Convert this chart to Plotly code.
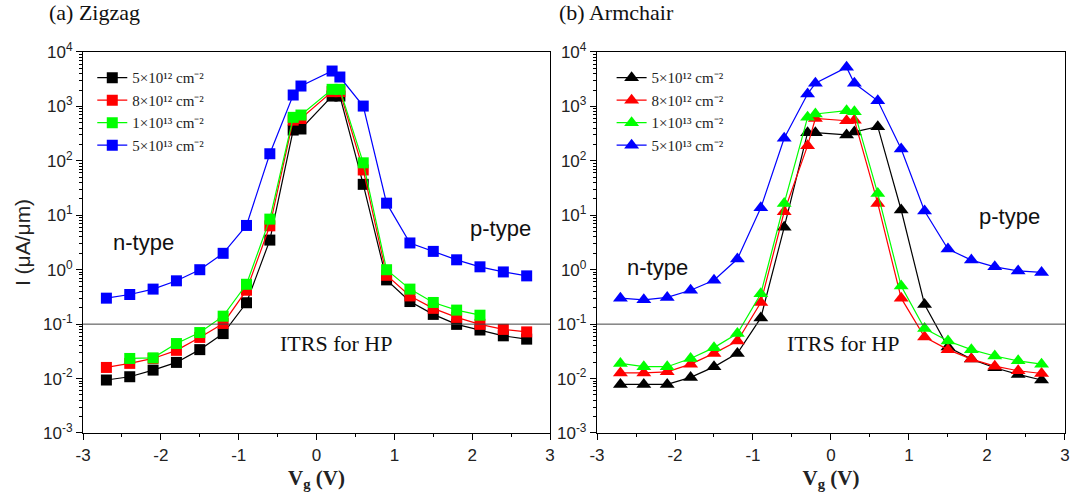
import plotly.graph_objects as go

vg = [-2.7, -2.4, -2.1, -1.8, -1.5, -1.2, -0.9, -0.6, -0.3, -0.2,
      0.2, 0.3, 0.6, 0.9, 1.2, 1.5, 1.8, 2.1, 2.4, 2.7]

labels = ["5×10¹² cm⁻²", "8×10¹² cm⁻²", "1×10¹³ cm⁻²", "5×10¹³ cm⁻²"]
colors = ["#000000", "#ff0000", "#00ff00", "#0000ff"]

# (a) Zigzag
zz_5e12 = [0.0094, 0.0108, 0.0143, 0.0198, 0.034, 0.067, 0.247, 3.5, 368, 385,
           1550, 1550, 37, 0.65, 0.26, 0.151, 0.099, 0.078, 0.061, 0.053]
zz_8e12 = [0.016, 0.019, 0.0234, 0.033, 0.057, 0.103, 0.42, 6.4, 560, 600,
           1870, 1870, 68, 0.79, 0.33, 0.195, 0.133, 0.099, 0.080, 0.072]
zz_1e13 = [None, 0.0234, 0.024, 0.044, 0.070, 0.14, 0.54, 8.5, 630, 695,
           2060, 2060, 92, 1.0, 0.44, 0.25, 0.181, 0.146, None, None]
zz_5e13 = [0.30, 0.35, 0.44, 0.625, 1.0, 2.0, 6.5, 135, 1620, 2370,
           4470, 3470, 1015, 16.7, 3.1, 2.17, 1.52, 1.13, 0.91, 0.77]

# (b) Armchair
ac_5e12 = [0.0078, 0.0078, 0.0078, 0.0105, 0.0164, 0.029, 0.13, 6.0, 330, 330,
           300, 340, 424, 12.5, 0.23, 0.038, 0.0228, 0.0158, 0.0119, 0.0094]
ac_8e12 = [0.0127, 0.0127, 0.0133, 0.0184, 0.029, 0.049, 0.25, 11.6, 190, 600,
           545, 560, 16.5, 0.30, 0.058, 0.034, 0.0228, 0.0169, 0.0139, 0.0124]
ac_1e13 = [0.019, 0.0165, 0.0165, 0.0234, 0.037, 0.067, 0.36, 16.5, 630, 725,
           835, 800, 25, 0.5, 0.083, 0.049, 0.034, 0.026, 0.0212, 0.0184]
ac_5e13 = [0.30, 0.28, 0.31, 0.42, 0.64, 1.57, 13.7, 260, 1690, 2660,
           5220, 2660, 1270, 165, 12, 2.4, 1.5, 1.13, 0.95, 0.89]

itrs = 0.1
xtick_vals = [-3, -2, -1, 0, 1, 2, 3]
xtick_text = ["-3", "-2", "-1", "0", "1", "2", "3"]
xminor_vals = [-2.5, -1.5, -0.5, 0.5, 1.5, 2.5]
ytick_vals = [1e-3, 1e-2, 1e-1, 1e0, 1e1, 1e2, 1e3, 1e4]
ytick_text = ["10<sup>-3</sup>", "10<sup>-2</sup>", "10<sup>-1</sup>", "10<sup>0</sup>",
              "10<sup>1</sup>", "10<sup>2</sup>", "10<sup>3</sup>", "10<sup>4</sup>"]
yminor_vals = [m * 10 ** e for e in range(-3, 4) for m in range(2, 10)]

fig = go.Figure()

zz = [zz_5e12, zz_8e12, zz_1e13, zz_5e13]
ac = [ac_5e12, ac_8e12, ac_1e13, ac_5e13]

for i in range(4):
    fig.add_trace(go.Scatter(
        x=vg, y=zz[i], mode="lines+markers", name=labels[i],
        line=dict(color=colors[i], width=1.2),
        marker=dict(symbol="square", size=11, color=colors[i]),
        xaxis="x", yaxis="y", legend="legend", connectgaps=False))
for i in range(4):
    fig.add_trace(go.Scatter(
        x=vg, y=ac[i], mode="lines+markers", name=labels[i],
        line=dict(color=colors[i], width=1.2),
        marker=dict(symbol="triangle-up", size=13, color=colors[i]),
        xaxis="x2", yaxis="y2", legend="legend2"))

# ITRS reference lines
for xa, ya in [("x", "y"), ("x2", "y2")]:
    fig.add_trace(go.Scatter(x=[-3, 3], y=[itrs, itrs], mode="lines",
                             line=dict(color="#444444", width=1), showlegend=False,
                             hoverinfo="skip", xaxis=xa, yaxis=ya))

SANS = "Liberation Sans, Arial, sans-serif"
SERIF = "Liberation Serif, Times New Roman, serif"

axis_common = dict(showline=True, linecolor="black", linewidth=1.3, mirror=True,
                   ticks="outside", tickcolor="black", showgrid=False, zeroline=False,
                   automargin=False,
                   tickfont=dict(family=SANS, size=17, color="#222"))

xcommon = dict(range=[-3, 3], tickmode="array", tickvals=xtick_vals, ticktext=xtick_text,
               ticklen=6,
               minor=dict(ticks="outside", tickmode="array", tickvals=xminor_vals,
                          ticklen=3, tickcolor="black"),
               title=dict(text="<b>V<sub>g</sub> (V)</b>",
                          font=dict(family=SERIF, size=21, color="#222"),
                          standoff=6),
               **axis_common)
ycommon = dict(type="log", range=[-3, 4], tickmode="array", tickvals=ytick_vals,
               ticktext=ytick_text, ticklen=6,
               minor=dict(ticks="outside", tickmode="array", tickvals=yminor_vals,
                          ticklen=3, tickcolor="black"),
               **axis_common)

fig.update_layout(
    width=1073, height=499, paper_bgcolor="white", plot_bgcolor="white",
    margin=dict(l=0, r=0, t=0, b=0, autoexpand=False),
    xaxis=dict(domain=[0.0774, 0.5126], anchor="y", **xcommon),
    xaxis2=dict(domain=[0.5564, 0.9925], anchor="y2", **xcommon),
    yaxis=dict(domain=[0.1323, 0.8958], anchor="x",
               title=dict(text="I (μA/μm)", font=dict(family=SANS, size=21, color="#222"),
                          standoff=6),
               **ycommon),
    yaxis2=dict(domain=[0.1323, 0.8958], anchor="x2", **ycommon),
    legend=dict(x=0.086, y=0.877, xanchor="left", yanchor="top", bgcolor="rgba(0,0,0,0)",
                font=dict(family=SERIF, size=15, color="#222"),
                tracegroupgap=0, itemwidth=30),
    legend2=dict(x=0.570, y=0.877, xanchor="left", yanchor="top", bgcolor="rgba(0,0,0,0)",
                 font=dict(family=SERIF, size=15, color="#222"),
                 tracegroupgap=0, itemwidth=30),
    showlegend=True,
)

ann_sans = dict(family=SANS, size=22, color="#111")
ann_serif = dict(family=SERIF, size=22, color="#111")
fig.add_annotation(text="(a) Zigzag", x=0.044, y=0.974, xref="paper", yref="paper",
                   xanchor="left", yanchor="middle", showarrow=False,
                   font=dict(family=SERIF, size=22, color="#111"))
fig.add_annotation(text="(b) Armchair", x=0.519, y=0.974, xref="paper", yref="paper",
                   xanchor="left", yanchor="middle", showarrow=False,
                   font=dict(family=SERIF, size=22, color="#111"))
fig.add_annotation(text="n-type", x=-2.22, y=0.507, xref="x", yref="y", yanchor="middle",
                   showarrow=False, font=ann_sans)
fig.add_annotation(text="p-type", x=2.37, y=0.765, xref="x", yref="y", yanchor="middle",
                   showarrow=False, font=ann_sans)
fig.add_annotation(text="ITRS for HP", x=0.25, y=-1.35, xref="x", yref="y", yanchor="middle",
                   showarrow=False, font=ann_serif)
fig.add_annotation(text="n-type", x=-2.23, y=0.048, xref="x2", yref="y2", yanchor="middle",
                   showarrow=False, font=ann_sans)
fig.add_annotation(text="p-type", x=2.29, y=0.985, xref="x2", yref="y2", yanchor="middle",
                   showarrow=False, font=ann_sans)
fig.add_annotation(text="ITRS for HP", x=0.15, y=-1.35, xref="x2", yref="y2", yanchor="middle",
                   showarrow=False, font=ann_serif)

fig.write_html("out.html", config={"displayModeBar": False},
               post_script="document.body.style.margin='0';")
